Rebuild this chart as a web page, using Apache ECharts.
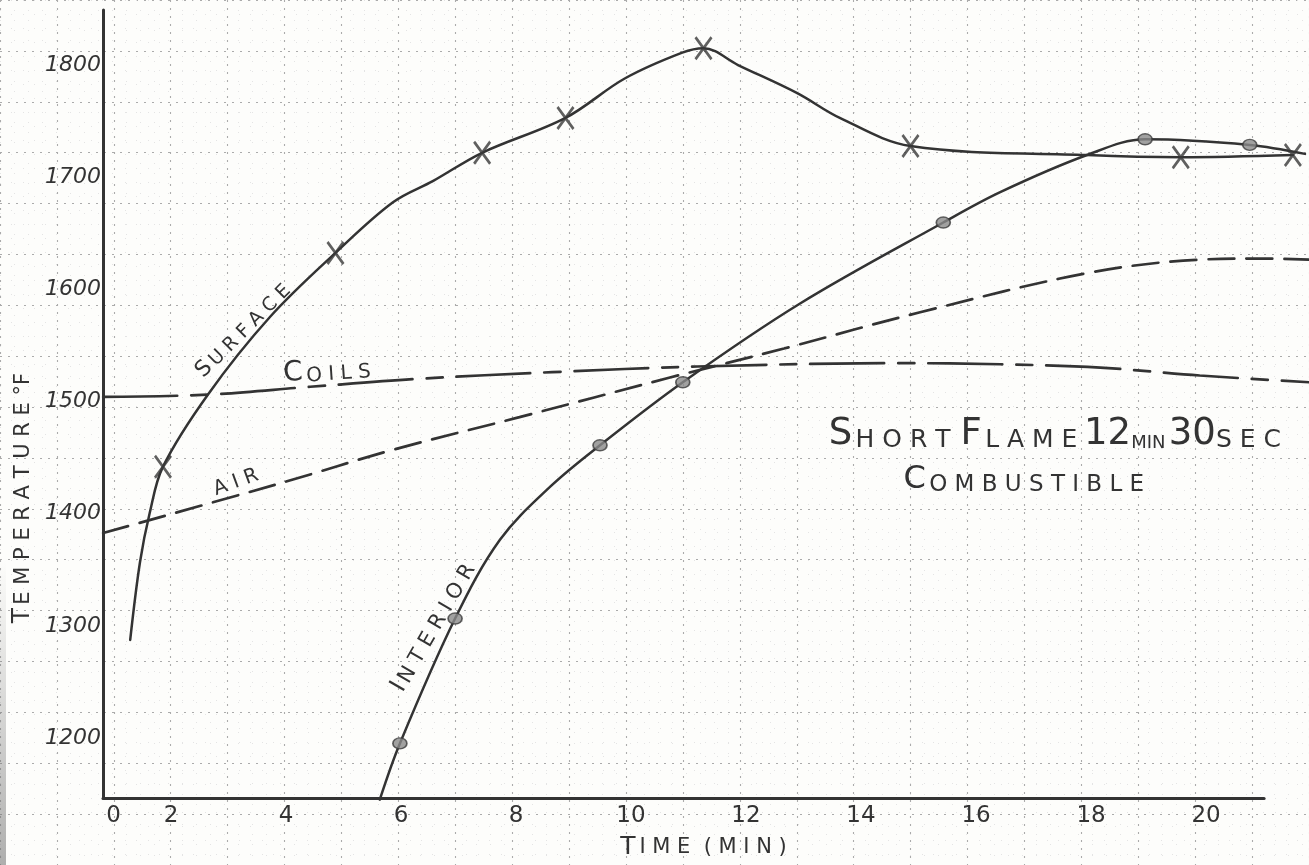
<!DOCTYPE html>
<html>
<head>
<meta charset="utf-8">
<script src="https://cdn.jsdelivr.net/npm/echarts@6/dist/echarts.min.js"></script>
<style>
  html, body { margin: 0; padding: 0; background: #fdfdfb; }
  #c { width: 1309px; height: 865px; }
</style>
</head>
<body>
<div id="c"></div>
<script>
// ---- readings: time in minutes, temperature in °F ----
const xTickValues = [1, 2, 4, 6, 8, 10, 12, 14, 16, 18, 20];
const xTickLabels = ['0', '2', '4', '6', '8', '10', '12', '14', '16', '18', '20'];
const yTickValues = [1200, 1300, 1400, 1500, 1600, 1700, 1800];
const yTickLabels = ['1200', '1300', '1400', '1500', '1600', '1700', '1800'];

// surface thermocouple: plotted observations (x marks) and further points along the drawn curve
const surfacePoints = [[2, 1443], [5, 1633], [7.55, 1722], [9, 1753], [11.4, 1815], [15, 1728], [19.7, 1718], [21.65, 1720]];
const surfaceTrace = [[1.43, 1289], [1.6, 1358], [1.77, 1402], [2.78, 1507], [3.86, 1576], [6, 1678], [6.7, 1697],
                      [10.03, 1788], [11.03, 1811], [12.0, 1800], [13.03, 1775], [13.77, 1753],
                      [18.07, 1720]];

// interior thermocouple: plotted observations (dots) and further points along the drawn curve
const interiorPoints = [[6.12, 1197], [7.08, 1308], [9.6, 1462], [11.04, 1518], [15.57, 1660], [19.08, 1734], [20.9, 1729]];
const interiorTrace = [[5.77, 1147], [7.86, 1378], [8.73, 1425], [13.08, 1588], [16.56, 1687], [18.07, 1720], [21.86, 1721]];

// heating coils and air (curves only)
const coilsTrace = [[0.96, 1505], [2.78, 1507], [4.56, 1514], [6.42, 1521], [8.77, 1527], [11.29, 1532],
                    [14.8, 1535], [16.56, 1534], [18.3, 1531], [20.03, 1524], [21.93, 1518]];
const airTrace = [[0.96, 1384], [4.09, 1429], [6, 1458], [8.2, 1487], [10.8, 1522], [12.8, 1548],
                  [15.15, 1580], [18.07, 1615], [20.03, 1627], [21.1, 1628], [21.93, 1627]];

// ---- layout ----
const W = 1309, H = 865;
const plot = { left: 103, top: 10, bottom: 65 };
const xMin = 0.957, xMax = 21.93, frameXMax = 21.15;
const yMin = 1146.7, yMax = 1848.9;
const pxPerMin = (W - plot.left) / (xMax - xMin);
const pxPerDeg = (H - plot.bottom - plot.top) / (yMax - yMin);
const px = t => plot.left + (t - xMin) * pxPerMin;
const py = v => plot.top + (yMax - v) * pxPerDeg;

const INK = '#333333';
const FONT = '"DejaVu Sans", sans-serif';

const byTime = (a, b) => a[0] - b[0];
const merged = (pts, trace) => pts.concat(trace).sort(byTime);

// ruled paper, one heavy line per minute and per 50 °F
const paper = { tMin: -1, tMax: 22, vMin: 1050, vMax: 1900 };
const paperGrid = {
  left: px(paper.tMin), top: py(paper.vMax),
  right: W - px(paper.tMax), bottom: H - py(paper.vMin)
};

const hidden = { axisLine: { show: false }, axisTick: { show: false }, axisLabel: { show: false }, splitLine: { show: false } };
const paperAxis = {
  axisLine: { show: false }, axisTick: { show: false }, axisLabel: { show: false },
  minorTick: { show: false, splitNumber: 5 },
  splitLine: { show: true, lineStyle: { color: '#ababab', width: 1.1, type: [2, 6] } },
  minorSplitLine: { show: true, lineStyle: { color: '#e4e4e4', width: 1, type: [1, 13] } }
};

// cross-shaped plotting mark
const crossMark = 'path://M0,2 L2.2,0 L20,22 L17.8,24 Z M17.8,0 L20,2 L2.2,24 L0,22 Z';

const chart = echarts.init(document.getElementById('c'));

const option = {
  animation: false,
  backgroundColor: '#fdfdfb',
  textStyle: { fontFamily: FONT, color: INK },
  grid: [
    { ...paperGrid, containLabel: false },
    { left: plot.left, top: plot.top, width: px(frameXMax) - plot.left, bottom: plot.bottom },
    { left: plot.left, top: plot.top, right: 0, bottom: plot.bottom }
  ],
  xAxis: [
    { gridIndex: 0, type: 'value', min: paper.tMin, max: paper.tMax, interval: 1, ...paperAxis },
    {
      gridIndex: 1, type: 'value', min: xMin, max: frameXMax,
      axisLine: { show: true, onZero: false, lineStyle: { color: INK, width: 3 } },
      axisTick: { show: false },
      splitLine: { show: false },
      axisLabel: {
        customValues: xTickValues,
        formatter: v => xTickLabels[xTickValues.indexOf(v)],
        fontSize: 23, color: INK, margin: 7, padding: [0, 0, 0, 16]
      },
      name: '{b|T} {s|I M E  ( M I N )}', nameLocation: 'middle', nameGap: 37,
      nameTextStyle: {
        padding: [0, 0, 0, 40],
        rich: { b: { fontSize: 25, color: INK, fontFamily: FONT }, s: { fontSize: 21, color: INK, fontFamily: FONT } }
      }
    },
    { gridIndex: 2, type: 'value', min: xMin, max: xMax, ...hidden }
  ],
  yAxis: [
    { gridIndex: 0, type: 'value', min: paper.vMin, max: paper.vMax, interval: 50, ...paperAxis },
    {
      gridIndex: 1, type: 'value', min: yMin, max: yMax,
      axisLine: { show: true, onZero: false, lineStyle: { color: INK, width: 3 } },
      axisTick: { show: false },
      splitLine: { show: false },
      axisLabel: {
        customValues: yTickValues,
        formatter: v => yTickLabels[yTickValues.indexOf(v)],
        fontSize: 22, fontStyle: 'italic', color: INK, margin: 2
      }
    },
    { gridIndex: 2, type: 'value', min: yMin, max: yMax, ...hidden }
  ],
  series: [
    {
      name: 'Air', type: 'line', xAxisIndex: 2, yAxisIndex: 2, data: airTrace,
      smooth: 0.35, showSymbol: false, symbol: 'none',
      lineStyle: { color: INK, width: 2.7, type: [26, 12], cap: 'round' }
    },
    {
      name: 'Coils', type: 'line', xAxisIndex: 2, yAxisIndex: 2, data: coilsTrace,
      smooth: 0.35, showSymbol: false, symbol: 'none',
      lineStyle: { color: INK, width: 2.7, type: [74, 14, 16, 14], cap: 'round' }
    },
    {
      name: 'Interior', type: 'line', xAxisIndex: 2, yAxisIndex: 2, data: merged(interiorPoints, interiorTrace),
      smooth: 0.35, showSymbol: false, symbol: 'none',
      lineStyle: { color: INK, width: 2.5, cap: 'round' }
    },
    {
      name: 'Surface', type: 'line', xAxisIndex: 2, yAxisIndex: 2, data: merged(surfacePoints, surfaceTrace),
      smooth: 0.35, showSymbol: false, symbol: 'none',
      lineStyle: { color: INK, width: 2.5, cap: 'round' }
    },
    {
      name: 'Interior readings', type: 'scatter', xAxisIndex: 2, yAxisIndex: 2, data: interiorPoints,
      symbol: 'circle', symbolSize: [14, 11],
      itemStyle: { color: '#8a8a8a', borderColor: '#3c3c3c', borderWidth: 1.5 }, z: 5
    },
    {
      name: 'Surface readings', type: 'scatter', xAxisIndex: 2, yAxisIndex: 2, data: surfacePoints,
      symbol: crossMark, symbolSize: [18, 24], symbolKeepAspect: false,
      itemStyle: { color: '#383838' }, z: 5
    }
  ]
};

chart.setOption(option);

// ---- hand lettering placed in the data coordinates of the plot ----
const spaced = s => s.split('').join(' ');
const notes = [
  { text: '{b|S} {s|' + spaced('URFACE') + '}', at: [3.39, 1564], angle: 45, big: 22, small: 19 },
  { text: '{b|C} {s|' + spaced('OILS') + '}', at: [4.85, 1528], angle: 4, big: 28, small: 20 },
  { text: '{s|' + spaced('AIR') + '}', at: [3.27, 1429], angle: 20, big: 21, small: 20 },
  { text: '{b|I} {s|' + spaced('NTERIOR') + '}', at: [6.7, 1300], angle: 60, big: 24, small: 21 },
  { text: '{b|S} {s|' + spaced('HORT') + '}   {b|F} {s|' + spaced('LAME') + '}  {b|12}{t|MIN} {b|30}{s|' + spaced('SEC') + '}',
    at: [17.51, 1472], angle: 0, big: 37, small: 25, tiny: 18 },
  { text: '{b|C} {s|' + spaced('OMBUSTIBLE') + '}', at: [16.97, 1431], angle: 0, big: 32, small: 23 }
];

const graphics = notes.map(n => {
  const p = chart.convertToPixel({ xAxisIndex: 2, yAxisIndex: 2 }, n.at);
  return {
    type: 'text', x: p[0], y: p[1], rotation: n.angle * Math.PI / 180, z: 10,
    style: {
      text: n.text, align: 'center', verticalAlign: 'middle', fill: INK,
      rich: {
        b: { fontSize: n.big, fontFamily: FONT, fill: INK, verticalAlign: 'bottom' },
        s: { fontSize: n.small, fontFamily: FONT, fill: INK, verticalAlign: 'bottom' },
        t: { fontSize: n.tiny || n.small, fontFamily: FONT, fill: INK, verticalAlign: 'bottom' }
      }
    }
  };
});

// vertical axis title
const ty = chart.convertToPixel({ xAxisIndex: 2, yAxisIndex: 2 }, [xMin, 1415]);
graphics.push({
  type: 'text', x: 22, y: ty[1], rotation: Math.PI / 2, z: 10,
  style: {
    text: '{b|T} {s|' + spaced('EMPERATURE') + '}  {s|°F}', align: 'center', verticalAlign: 'middle', fill: INK,
    rich: {
      b: { fontSize: 25, fontFamily: FONT, fill: INK, verticalAlign: 'bottom' },
      s: { fontSize: 21, fontFamily: FONT, fill: INK, verticalAlign: 'bottom' }
    }
  }
});

// worn edge of the sheet along the lower left
graphics.push({
  type: 'rect', shape: { x: 0, y: 560, width: 6, height: H - 560 }, z: 0, silent: true,
  style: {
    fill: new echarts.graphic.LinearGradient(0, 0, 0, 1, [
      { offset: 0, color: 'rgba(110,110,110,0)' },
      { offset: 1, color: 'rgba(110,110,110,0.55)' }
    ])
  }
});

chart.setOption({ graphic: graphics });
</script>
</body>
</html>
